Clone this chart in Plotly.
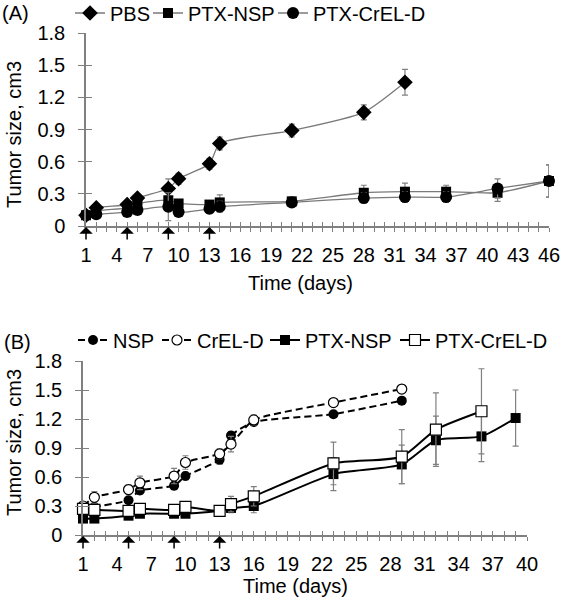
import plotly.graph_objects as go

# ---------------- Panel A data ----------------
a_days_pbs = [1, 2, 5, 6, 9, 10, 13, 14, 21, 28, 32]
a_pbs = [0.10, 0.17, 0.20, 0.26, 0.35, 0.44, 0.58, 0.77, 0.89, 1.06, 1.34]
a_pbs_err = [0.02, 0.03, 0.03, 0.03, 0.09, 0.05, 0.05, 0.06, 0.06, 0.07, 0.12]

a_days_ptx = [1, 2, 5, 6, 9, 10, 13, 14, 21, 28, 32, 36, 41, 46]
a_ptx_nsp = [0.10, 0.14, 0.17, 0.21, 0.24, 0.21, 0.20, 0.22, 0.23, 0.31, 0.32, 0.32, 0.31, 0.42]
a_ptx_nsp_err = [0.02, 0.03, 0.03, 0.03, 0.04, 0.03, 0.03, 0.07, 0.04, 0.07, 0.08, 0.06, 0.08, 0.15]
a_ptx_crel = [0.10, 0.11, 0.13, 0.15, 0.18, 0.13, 0.16, 0.18, 0.22, 0.26, 0.27, 0.27, 0.35, 0.42]
a_ptx_crel_err = [0.02, 0.02, 0.03, 0.03, 0.13, 0.03, 0.04, 0.05, 0.04, 0.05, 0.05, 0.05, 0.09, 0.15]

# ---------------- Panel B data ----------------
b_days_ctrl = [1, 2, 5, 6, 9, 10, 13, 14, 16, 23, 29]
b_nsp = [0.27, 0.29, 0.36, 0.46, 0.51, 0.61, 0.78, 1.03, 1.17, 1.25, 1.39]
b_nsp_err = [0.02, 0.02, 0.03, 0.04, 0.04, 0.04, 0.05, 0.04, 0.04, 0.03, 0.03]
b_crel = [0.30, 0.39, 0.47, 0.54, 0.61, 0.75, 0.84, 0.94, 1.19, 1.37, 1.51]
b_crel_err = [0.03, 0.06, 0.05, 0.07, 0.08, 0.07, 0.05, 0.08, 0.05, 0.03, 0.04]

b_days_ptx_nsp = [1, 2, 5, 6, 9, 10, 13, 14, 16, 23, 29, 32, 36, 39]
b_ptx_nsp = [0.17, 0.17, 0.20, 0.22, 0.22, 0.22, 0.25, 0.28, 0.30, 0.63, 0.73, 0.98, 1.02, 1.21]
b_ptx_nsp_err = [0.03, 0.03, 0.03, 0.03, 0.03, 0.03, 0.04, 0.05, 0.07, 0.17, 0.20, 0.25, 0.26, 0.29]
b_days_ptx_crel = [1, 2, 5, 6, 9, 10, 13, 14, 16, 23, 29, 32, 36]
b_ptx_crel = [0.27, 0.26, 0.25, 0.27, 0.26, 0.29, 0.25, 0.32, 0.40, 0.74, 0.81, 1.09, 1.28]
b_ptx_crel_err = [0.04, 0.04, 0.04, 0.04, 0.04, 0.04, 0.03, 0.08, 0.10, 0.22, 0.28, 0.38, 0.44]

# ---------------- ticks / labels ----------------
y_tickvals = [0, 0.3, 0.6, 0.9, 1.2, 1.5, 1.8]
y_ticktext = ["0", "0.3", "0.6", "0.9", "1.2", "1.5", "1.8"]
a_xticks = list(range(1, 47, 3))
b_xticks = list(range(1, 41, 3))
dosing_days = [1, 5, 9, 13]

FONT = "Arial, Liberation Sans, sans-serif"
FS = 20
GRAY = "#808080"
W, H = 561, 600

fig = go.Figure()


def err(vals, color):
    return dict(type="data", array=vals, visible=True, color=color, thickness=1.2, width=3)


# Panel A traces
fig.add_trace(go.Scatter(x=a_days_pbs, y=a_pbs, name="PBS", mode="lines+markers",
                         line=dict(color="#7a7a7a", width=1.3, shape="spline", smoothing=0.6),
                         marker=dict(symbol="diamond", size=12, color="black"),
                         error_y=err(a_pbs_err, GRAY), cliponaxis=False,
                         xaxis="x", yaxis="y", legend="legend"))
fig.add_trace(go.Scatter(x=a_days_ptx, y=a_ptx_nsp, name="PTX-NSP", mode="lines+markers",
                         line=dict(color="#7a7a7a", width=1.3, shape="spline", smoothing=0.6),
                         marker=dict(symbol="square", size=10, color="black"),
                         error_y=err(a_ptx_nsp_err, GRAY), cliponaxis=False,
                         xaxis="x", yaxis="y", legend="legend2"))
fig.add_trace(go.Scatter(x=a_days_ptx, y=a_ptx_crel, name="PTX-CrEL-D", mode="lines+markers",
                         line=dict(color="#7a7a7a", width=1.3, shape="spline", smoothing=0.6),
                         marker=dict(symbol="circle", size=12, color="black"),
                         error_y=err(a_ptx_crel_err, GRAY), cliponaxis=False,
                         xaxis="x", yaxis="y", legend="legend3"))

# Panel B traces
fig.add_trace(go.Scatter(x=b_days_ctrl, y=b_nsp, name="NSP", mode="lines+markers",
                         line=dict(color="black", width=2, dash="7px,4px", shape="spline", smoothing=0.5),
                         marker=dict(symbol="circle", size=10, color="black"),
                         error_y=err(b_nsp_err, GRAY), cliponaxis=False,
                         xaxis="x2", yaxis="y2", legend="legend4"))
fig.add_trace(go.Scatter(x=b_days_ctrl, y=b_crel, name="CrEL-D", mode="lines+markers",
                         line=dict(color="black", width=2, dash="7px,4px", shape="spline", smoothing=0.5),
                         marker=dict(symbol="circle", size=10, color="white",
                                     line=dict(color="black", width=1.2)),
                         error_y=err(b_crel_err, GRAY), cliponaxis=False,
                         xaxis="x2", yaxis="y2", legend="legend5"))
fig.add_trace(go.Scatter(x=b_days_ptx_nsp, y=b_ptx_nsp, name="PTX-NSP", mode="lines+markers",
                         line=dict(color="black", width=2, shape="spline", smoothing=0.6),
                         marker=dict(symbol="square", size=10, color="black"),
                         error_y=err(b_ptx_nsp_err, GRAY), cliponaxis=False,
                         xaxis="x2", yaxis="y2", legend="legend6"))
fig.add_trace(go.Scatter(x=b_days_ptx_crel, y=b_ptx_crel, name="PTX-CrEL-D", mode="lines+markers",
                         line=dict(color="black", width=2, shape="spline", smoothing=0.6),
                         marker=dict(symbol="square", size=11, color="white",
                                     line=dict(color="black", width=1.2)),
                         error_y=err(b_ptx_crel_err, GRAY), cliponaxis=False,
                         xaxis="x2", yaxis="y2", legend="legend7"))

# invisible helper traces for the overlaid (inside-tick) axes
fig.add_trace(go.Scatter(x=[None], y=[None], xaxis="x3", yaxis="y3", showlegend=False, hoverinfo="skip"))
fig.add_trace(go.Scatter(x=[None], y=[None], xaxis="x4", yaxis="y4", showlegend=False, hoverinfo="skip"))

# domains in paper coordinates
a_xdom = [86 / W, 549 / W]
a_ydom = [1 - 226 / H, 1 - 33 / H]
b_xdom = [83 / W, 527 / W]
b_ydom = [1 - 535 / H, 1 - 361 / H]

tickfont = dict(family=FONT, size=FS, color="black")


def xax(dom, rng, ticks, anchor):
    return dict(domain=dom, range=rng, anchor=anchor, tickmode="array", tickvals=ticks,
                ticks="outside", ticklen=4, tickcolor=GRAY, tickwidth=1.2,
                minor=dict(dtick=1, tick0=1, ticks="outside", ticklen=4, tickcolor=GRAY, tickwidth=1.2),
                showline=True, linecolor=GRAY, linewidth=1.5, showgrid=False, zeroline=False,
                tickfont=tickfont, ticklabelstandoff=6, automargin=False)


def yax(dom, anchor):
    return dict(domain=dom, range=[0, 1.8], anchor=anchor, tickmode="array",
                tickvals=y_tickvals, ticktext=y_ticktext,
                ticks="outside", ticklen=6, tickcolor=GRAY, tickwidth=1.2,
                showline=True, linecolor=GRAY, linewidth=1.5, showgrid=False, zeroline=False,
                tickfont=tickfont, ticklabelstandoff=9, automargin=False)


def xover(base, rng, ticks, anchor):
    return dict(overlaying=base, range=rng, anchor=anchor, tickmode="array", tickvals=ticks,
                ticks="inside", ticklen=4, tickcolor=GRAY, tickwidth=1.2,
                minor=dict(dtick=1, tick0=1, ticks="inside", ticklen=4, tickcolor=GRAY, tickwidth=1.2),
                showticklabels=False, showline=False, showgrid=False, zeroline=False)


def yover(base, anchor):
    return dict(overlaying=base, range=[0, 1.8], anchor=anchor, tickmode="array",
                tickvals=y_tickvals, ticks="inside", ticklen=6, tickcolor=GRAY, tickwidth=1.2,
                showticklabels=False, showline=False, showgrid=False, zeroline=False)


annotations = []
for d in dosing_days:
    for xr, yr in (("x", "y"), ("x2", "y2")):
        annotations.append(dict(x=d, y=0, xref=xr, yref=yr, text="", showarrow=True,
                                ax=0, ay=15, arrowhead=1, arrowsize=1.5, arrowwidth=1.5,
                                arrowcolor="black", standoff=1))

lab = dict(family=FONT, size=FS, color="black")
annotations += [
    dict(text="(A)", x=0, y=1 - 13 / H, xref="paper", yref="paper", xanchor="left",
         yanchor="middle", showarrow=False, font=lab),
    dict(text="(B)", x=2 / W, y=1 - 342 / H, xref="paper", yref="paper", xanchor="left",
         yanchor="middle", showarrow=False, font=lab),
    dict(text="Time (days)", x=300 / W, y=1 - 283 / H, xref="paper", yref="paper",
         xanchor="center", yanchor="middle", showarrow=False, font=lab),
    dict(text="Time (days)", x=295 / W, y=1 - 586 / H, xref="paper", yref="paper",
         xanchor="center", yanchor="middle", showarrow=False, font=lab),
    dict(text="Tumor size, cm3", x=14 / W, y=1 - 135 / H, xref="paper", yref="paper",
         xanchor="center", yanchor="middle", textangle=-90, showarrow=False, font=lab),
    dict(text="Tumor size, cm3", x=14 / W, y=1 - 443 / H, xref="paper", yref="paper",
         xanchor="center", yanchor="middle", textangle=-90, showarrow=False, font=lab),
]


def leg(xpx, ypx):
    return dict(orientation="h", x=xpx / W, y=1 - ypx / H, xanchor="left", yanchor="middle",
                font=dict(family=FONT, size=FS, color="black"), itemwidth=30,
                bgcolor="rgba(0,0,0,0)", borderwidth=0)


fig.update_layout(
    width=W, height=H, margin=dict(l=0, r=0, t=0, b=0, autoexpand=False),
    paper_bgcolor="white", plot_bgcolor="white",
    font=dict(family=FONT, size=FS, color="black"),
    xaxis=xax(a_xdom, [1, 46], a_xticks, "y"),
    yaxis=yax(a_ydom, "x"),
    xaxis2=xax(b_xdom, [1, 40], b_xticks, "y2"),
    yaxis2=yax(b_ydom, "x2"),
    xaxis3=xover("x", [1, 46], a_xticks, "y3"),
    yaxis3=yover("y", "x3"),
    xaxis4=xover("x2", [1, 40], b_xticks, "y4"),
    yaxis4=yover("y2", "x4"),
    legend=leg(70, 13),
    legend2=leg(148, 13),
    legend3=leg(273, 13),
    legend4=leg(73, 340),
    legend5=leg(157, 340),
    legend6=leg(265, 340),
    legend7=leg(395, 340),
    annotations=annotations,
    showlegend=True,
)

# remove the browser's default page margin so the figure sits at the window's corner
fig.write_html("out.html",
               config={"displayModeBar": False},
               post_script="document.body.style.margin='0';document.body.style.padding='0';"
                           "document.body.style.overflow='hidden';")
